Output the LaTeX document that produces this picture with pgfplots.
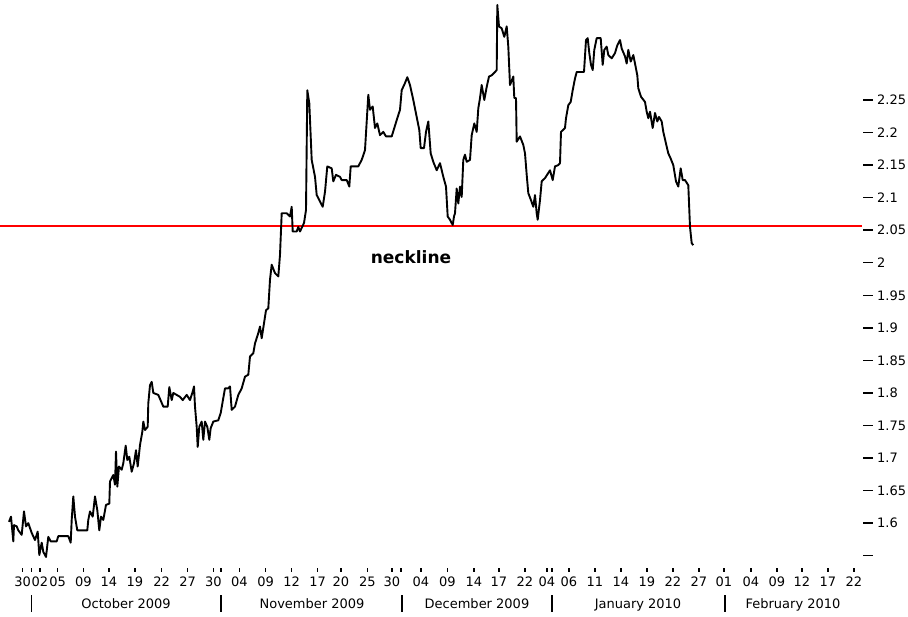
\documentclass[border=0pt]{standalone}
\usepackage{fontspec}
\setmainfont{DejaVu Sans}
\usepackage{xcolor}
\usepackage{pgfplots}
\pgfplotsset{compat=1.18}
\definecolor{neckred}{RGB}{255,0,0}
\newcommand{\sep}{\rule[-3.4bp]{1.4bp}{16.7bp}}
\pgfplotstableread{
x y
9 1.602
11 1.610
13.3 1.572
14 1.597
16.7 1.595
18.3 1.589
21.7 1.582
24 1.618
26 1.595
28.3 1.600
31.7 1.585
35 1.574
37.7 1.587
39.3 1.551
41.7 1.570
43.3 1.556
46 1.548
48.3 1.579
50.7 1.572
56.7 1.572
58.3 1.580
68.3 1.580
70.7 1.570
71.7 1.605
73.3 1.641
75 1.610
77.3 1.589
87.3 1.589
88.3 1.605
90 1.618
92.7 1.610
95 1.641
97.3 1.620
99.3 1.589
101 1.610
103.3 1.605
106 1.628
109.3 1.630
110 1.664
113.3 1.674
115 1.659
116 1.710
117.3 1.656
119 1.687
121.7 1.682
123.3 1.692
125.7 1.719
127.3 1.697
129.3 1.702
131.7 1.679
134 1.692
136 1.712
137.7 1.687
140 1.720
142.3 1.740
143.3 1.756
145 1.743
147.7 1.748
148.3 1.784
150 1.812
151.7 1.817
153.3 1.800
158.3 1.797
163.3 1.779
167.7 1.779
169.3 1.809
171.7 1.789
173.3 1.800
180 1.794
182.7 1.789
186.7 1.797
190 1.789
192.7 1.802
194 1.810
195 1.779
196.7 1.748
197.7 1.717
199.3 1.748
201.7 1.756
203.3 1.728
205 1.756
207.3 1.748
209.3 1.728
210.7 1.746
213.3 1.756
218.3 1.758
220.7 1.769
222.7 1.787
225 1.807
228.3 1.807
230 1.810
231.7 1.774
235 1.779
238.3 1.797
241.7 1.807
245 1.825
248.3 1.828
250 1.856
253.3 1.861
255 1.876
258.3 1.892
260 1.902
261.7 1.884
264 1.907
266 1.927
268.3 1.930
270 1.974
271.7 1.997
275 1.984
278.3 1.979
280 2.012
281.7 2.076
286.7 2.076
290 2.071
291.7 2.086
292.7 2.048
296.7 2.048
298.3 2.055
300 2.048
304 2.061
306 2.081
307.3 2.265
309.3 2.245
311.7 2.158
315 2.132
316.7 2.104
320 2.094
322.7 2.086
325 2.109
327.3 2.148
331.7 2.145
333.3 2.125
336 2.135
340 2.132
341.7 2.127
346.7 2.127
349.3 2.117
350.7 2.148
358.3 2.148
361.7 2.158
365 2.173
368.3 2.258
370 2.235
372.7 2.240
375 2.207
377.3 2.214
380 2.196
383.3 2.201
386 2.194
391.7 2.194
396.7 2.219
400 2.235
401.7 2.265
405 2.276
407.3 2.285
410 2.273
413.3 2.250
416.7 2.224
419.3 2.204
420.7 2.176
424 2.176
426 2.201
428.3 2.217
430.7 2.168
433.3 2.155
436.7 2.142
440 2.153
443.3 2.132
446 2.117
447.7 2.071
450 2.066
452.7 2.058
454 2.071
455 2.076
456.7 2.114
458.3 2.091
460 2.117
461.7 2.101
463.3 2.158
465 2.166
466.7 2.155
470 2.158
471.7 2.196
474.3 2.214
476.7 2.201
478.3 2.237
480 2.253
481.7 2.273
484.3 2.250
486.7 2.270
489 2.286
491.7 2.288
495 2.293
496.7 2.296
497.3 2.396
499 2.363
501.7 2.360
504.3 2.347
506.7 2.363
508.3 2.332
510 2.273
513.3 2.286
514.3 2.253
516 2.253
516.7 2.186
520 2.194
523.3 2.181
525 2.168
526.7 2.135
528.3 2.107
531 2.096
533.3 2.086
535 2.104
536.7 2.076
537.7 2.066
540 2.096
541.7 2.125
545 2.130
550 2.142
552.7 2.127
555 2.148
558.3 2.150
560 2.153
561 2.201
565 2.207
566 2.222
568.3 2.242
570.7 2.247
572.7 2.265
575 2.283
576.7 2.293
584 2.293
586 2.342
587.7 2.345
589.3 2.322
591 2.304
592.7 2.296
594.3 2.327
596.7 2.345
600.7 2.345
602.7 2.304
604.3 2.327
606.7 2.332
608.3 2.319
611.7 2.314
615 2.322
617.3 2.334
620 2.342
621.7 2.329
625 2.317
626.7 2.306
628.3 2.327
630.7 2.309
633.3 2.319
635 2.306
637.3 2.288
638.3 2.268
641 2.255
645 2.247
646.7 2.232
648.3 2.222
650 2.232
652.7 2.207
655 2.230
657.3 2.217
659 2.224
661.7 2.217
663.3 2.201
666 2.183
668.3 2.168
670.7 2.160
673.3 2.150
676 2.125
678.3 2.117
680.7 2.145
682.7 2.127
685 2.127
688.3 2.119
690 2.055
691.7 2.030
693.3 2.027
}\pricedata
\begin{document}
\begin{tikzpicture}
\path[use as bounding box] (0,0) rectangle (908bp,617bp);
\begin{axis}[
  at={(0bp,54.8bp)}, anchor=south west,
  x=1bp, y=651bp,
  xmin=0, xmax=862, ymin=1.54, ymax=2.4036,
  axis x line*=bottom, axis y line*=right,
  axis line style={draw=none},
  tick align=inside,
  major tick length=9bp,
  clip=false,
  ytick={1.55,1.6,1.65,1.7,1.75,1.8,1.85,1.9,1.95,2,2.05,2.1,2.15,2.2,2.25},
  yticklabels={{},1.6,1.65,1.7,1.75,1.8,1.85,1.9,1.95,2,2.05,2.1,2.15,2.2,2.25},
  ytick style={line width=1.5bp, black, xshift=10.5bp},
  yticklabel style={font=\fontsize{13bp}{15bp}\selectfont, anchor=west, inner sep=0pt, xshift=15bp},
  xtick={22.7,31.7,40,57.7,83.3,109,135,161.7,187.7,213.3,221,239.3,265.7,291.7,317.7,341,367.3,392,401,421,447.3,474,499,525,547,552,569,595,621,647,673,699,724,751,777,802,828,854},
  xticklabels={30,{},02,05,09,14,19,22,27,30,{},04,09,12,17,20,25,30,{},04,09,14,17,22,04,{},06,11,14,19,22,27,01,04,09,12,17,22},
  xtick style={line width=1.3bp, black, /pgfplots/major tick length=3bp, yshift=-9.3bp},
  xticklabel style={font=\fontsize{13bp}{15bp}\selectfont, anchor=base, inner sep=0pt, yshift=-24.5bp},
  extra x ticks={31.7,126,221,312,402,477,552,638,725,793},
  extra x tick labels={\sep,October 2009,\sep,November 2009,\sep,December 2009,\sep,January 2010,\sep,February 2010},
  extra x tick style={xtick style={draw=none}, tick label style={yshift=-21.5bp}},
]
\addplot[draw=neckred, line width=2bp, mark=none] coordinates {(0,2.057) (862,2.057)};
\addplot[draw=black, line width=1.9bp, line join=round, mark=none] table[x=x,y=y] {\pricedata};
\node[anchor=base, font=\bfseries\fontsize{17bp}{19bp}\selectfont] at (axis cs:411,1.999) {neckline};
\end{axis}
\end{tikzpicture}
\end{document}
